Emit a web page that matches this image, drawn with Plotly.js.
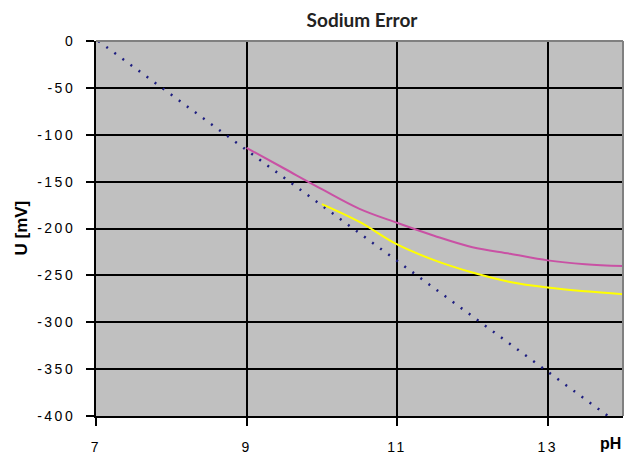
<!DOCTYPE html>
<html>
<head>
<meta charset="utf-8">
<script src="https://cdn.plot.ly/plotly-3.0.1.min.js"></script>
<style>
html,body{margin:0;padding:0;background:#fff;}
#chart{width:625px;height:455px;}
.ytick text, .xtick text{letter-spacing:2.5px;}
</style>
</head>
<body>
<div id="chart"></div>
<script>
// Data
const idealPH = [7.03, 13.8];
const idealU = [0, -400];

const magentaPH = [9, 9.5, 10, 10.5, 11, 11.5, 12, 12.5, 13, 13.5, 14];
const magentaU = [-114, -136, -158, -179, -194, -208, -220, -227, -234, -238, -240];

const yellowPH = [10, 10.5, 11, 11.5, 12, 12.5, 13, 13.5, 14];
const yellowU = [-174, -193, -217, -234, -247, -257, -263, -267, -270];

const xTicks = [7, 9, 11, 13];
const yTicks = [0, -50, -100, -150, -200, -250, -300, -350, -400];

const ARIAL = 'Liberation Sans, Arial, sans-serif';

const traces = [
  {x: idealPH, y: idealU, mode: 'lines', line: {color: '#1e1e80', width: 2.5, dash: '2px,8px'}, hoverinfo: 'none'},
  {x: magentaPH, y: magentaU, mode: 'lines', line: {color: '#c951a4', width: 2, shape: 'spline'}, hoverinfo: 'none'},
  {x: yellowPH, y: yellowU, mode: 'lines', line: {color: '#ffff00', width: 2, shape: 'spline'}, hoverinfo: 'none'}
];

const layout = {
  width: 625, height: 455,
  margin: {l: 96, r: 2, t: 41, b: 39},
  paper_bgcolor: '#ffffff',
  plot_bgcolor: '#c0c0c0',
  showlegend: false,
  title: {
    text: '<b>Sodium Error</b>',
    font: {family: 'Lato, DejaVu Sans, sans-serif', size: 19, color: '#222'},
    xref: 'container', yref: 'container',
    x: 362/625, xanchor: 'center',
    y: 1 - 20/455, yanchor: 'middle'
  },
  xaxis: {
    range: [7, 14],
    tickvals: xTicks,
    ticktext: xTicks.map(String),
    showgrid: true, gridcolor: '#000000', gridwidth: 2,
    zeroline: false,
    showline: true, linecolor: '#000000', linewidth: 2,
    ticks: 'outside', ticklen: 8, tickwidth: 2, tickcolor: '#000000',
    ticklabelstandoff: 9,
    tickfont: {family: ARIAL, size: 14, color: '#000'},
    fixedrange: true
  },
  yaxis: {
    range: [-400, 0],
    tickvals: yTicks,
    ticktext: yTicks.map(String),
    showgrid: true, gridcolor: '#000000', gridwidth: 2,
    zeroline: false,
    showline: true, linecolor: '#000000', linewidth: 2,
    ticks: 'outside', ticklen: 8, tickwidth: 2, tickcolor: '#000000',
    ticklabelstandoff: 8,
    tickfont: {family: ARIAL, size: 14, color: '#000'},
    fixedrange: true
  },
  shapes: [
    {type: 'line', xref: 'paper', yref: 'paper', x0: 0, x1: 1, y0: 1, y1: 1, line: {color: '#808080', width: 2}},
    {type: 'line', xref: 'paper', yref: 'paper', x0: 1, x1: 1, y0: 0, y1: 1, line: {color: '#808080', width: 2}}
  ],
  annotations: [
    {text: '<b>pH</b>', xref: 'paper', yref: 'paper', x: 1, xanchor: 'right', y: -27/375, yanchor: 'middle',
     showarrow: false, font: {family: ARIAL, size: 16, color: '#000'}},
    {text: '<b>U [mV]</b>', xref: 'paper', yref: 'paper', x: -75/527, xanchor: 'center', y: 0.5, yanchor: 'middle',
     textangle: -90, showarrow: false, font: {family: ARIAL, size: 17, color: '#000'}}
  ]
};

Plotly.newPlot('chart', traces, layout, {displayModeBar: false, staticPlot: true});
</script>
</body>
</html>
